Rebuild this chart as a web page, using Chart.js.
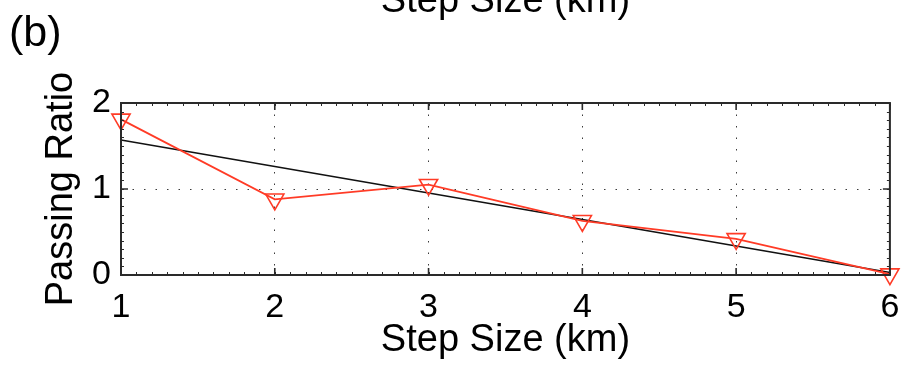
<!DOCTYPE html>
<html>
<head>
<meta charset="utf-8">
<script src="https://cdn.jsdelivr.net/npm/chart.js@4.4.1/dist/chart.umd.min.js"></script>
<style>
  html, body { margin: 0; padding: 0; background: #fff; }
  #wrap { width: 902px; height: 366px; position: relative; }
</style>
</head>
<body>
<div id="wrap"><canvas id="c" width="902" height="366"></canvas></div>
<script>
// Step sizes (km) and measured passing ratios
const stepSizes = [1, 2, 3, 4, 5, 6];
const passingRatio = [1.81, 0.88, 1.05, 0.63, 0.42, 0.01];
// Linear fit, evaluated at the ends of the range
const fitX = [1, 6];
const fitY = [1.57, 0.03];
const xTicks = [1, 2, 3, 4, 5, 6];
const yTicks = [0, 1, 2];

const FONT = "'Liberation Sans', Arial, Helvetica, sans-serif";
const RED = '#ff3b26';

// Box frame, inward ticks (major and minor) and panel label
const framePlugin = {
  id: 'frame',
  afterDatasetsDraw(chart) {
    const { ctx, chartArea: a, scales: { x, y } } = chart;
    ctx.save();
    ctx.strokeStyle = '#2a2a2a';
    ctx.lineWidth = 1;
    // minor ticks
    ctx.beginPath();
    for (let v = 1.1; v < 6; v += 0.1) {
      const px = Math.round(x.getPixelForValue(v)) + 0.5;
      ctx.moveTo(px, a.bottom); ctx.lineTo(px, a.bottom - 3);
      ctx.moveTo(px, a.top); ctx.lineTo(px, a.top + 3);
    }
    for (let v = 0.1; v < 2; v += 0.1) {
      const py = Math.round(y.getPixelForValue(v)) + 0.5;
      ctx.moveTo(a.left, py); ctx.lineTo(a.left + 3, py);
      ctx.moveTo(a.right, py); ctx.lineTo(a.right - 3, py);
    }
    ctx.stroke();
    // major ticks
    ctx.lineWidth = 1.6;
    ctx.beginPath();
    xTicks.forEach(v => {
      const px = x.getPixelForValue(v);
      ctx.moveTo(px, a.bottom); ctx.lineTo(px, a.bottom - 7);
      ctx.moveTo(px, a.top); ctx.lineTo(px, a.top + 7);
    });
    yTicks.forEach(v => {
      const py = y.getPixelForValue(v);
      ctx.moveTo(a.left, py); ctx.lineTo(a.left + 7, py);
      ctx.moveTo(a.right, py); ctx.lineTo(a.right - 7, py);
    });
    ctx.stroke();
    // frame
    ctx.lineWidth = 2;
    ctx.strokeRect(a.left, a.top, a.right - a.left, a.bottom - a.top);
    ctx.restore();
  },
  afterDraw(chart) {
    const { ctx, chartArea: a } = chart;
    ctx.save();
    ctx.fillStyle = '#000';
    ctx.font = '43px ' + FONT;
    ctx.textBaseline = 'alphabetic';
    ctx.textAlign = 'left';
    ctx.fillText('(b)', 9, 46);
    // x-axis title of the panel above, running off the top edge
    ctx.font = '38px ' + FONT;
    ctx.textAlign = 'center';
    ctx.fillText('Step Size (km)', (a.left + a.right) / 2, 12);
    ctx.restore();
  }
};

const gridColor = (ctx, ends) =>
  ends.includes(ctx.tick && ctx.tick.value) ? 'rgba(0,0,0,0)' : '#3a3a3a';

new Chart(document.getElementById('c'), {
  type: 'line',
  data: {
    datasets: [
      {
        label: 'Passing ratio',
        data: stepSizes.map((s, i) => ({ x: s, y: passingRatio[i] })),
        borderColor: RED,
        borderWidth: 1.8,
        pointStyle: 'triangle',
        rotation: 180,
        pointRadius: 10.5,
        pointBorderColor: RED,
        pointBackgroundColor: 'rgba(0,0,0,0)',
        pointBorderWidth: 1.6,
        clip: false,
        order: 1
      },
      {
        label: 'Linear fit',
        data: fitX.map((s, i) => ({ x: s, y: fitY[i] })),
        borderColor: '#111',
        borderWidth: 1.5,
        pointRadius: 0,
        clip: false,
        order: 2
      }
    ]
  },
  options: {
    responsive: false,
    animation: false,
    events: [],
    layout: { padding: { top: 103, right: 12, left: 0, bottom: 0 } },
    plugins: { legend: { display: false }, tooltip: { enabled: false } },
    scales: {
      x: {
        type: 'linear',
        min: 1, max: 6,
        afterBuildTicks: s => { s.ticks = xTicks.map(v => ({ value: v })); },
        afterFit: s => { s.height = 91; s.paddingLeft = 0; s.paddingRight = 0; },
        border: { display: false, dash: [1.5, 10] },
        grid: {
          drawTicks: false,
          color: c => gridColor(c, [1, 6]),
          lineWidth: 1
        },
        ticks: {
          color: '#000',
          padding: 12,
          maxRotation: 0,
          font: { family: FONT, size: 34 }
        },
        title: {
          display: true,
          text: 'Step Size (km)',
          color: '#000',
          font: { family: FONT, size: 38 },
          padding: { top: 0, bottom: 3 }
        }
      },
      y: {
        type: 'linear',
        min: 0, max: 2,
        afterBuildTicks: s => { s.ticks = yTicks.map(v => ({ value: v })); },
        afterFit: s => { s.width = 121; },
        border: { display: false, dash: [1.5, 10] },
        grid: {
          drawTicks: false,
          color: c => gridColor(c, [0, 2]),
          lineWidth: 1
        },
        ticks: {
          color: '#000',
          padding: 10,
          font: { family: FONT, size: 34 }
        },
        title: {
          display: true,
          text: 'Passing Ratio',
          color: '#000',
          font: { family: FONT, size: 38 },
          padding: { top: 39, bottom: 0 }
        }
      }
    }
  },
  plugins: [framePlugin]
});
</script>
</body>
</html>
